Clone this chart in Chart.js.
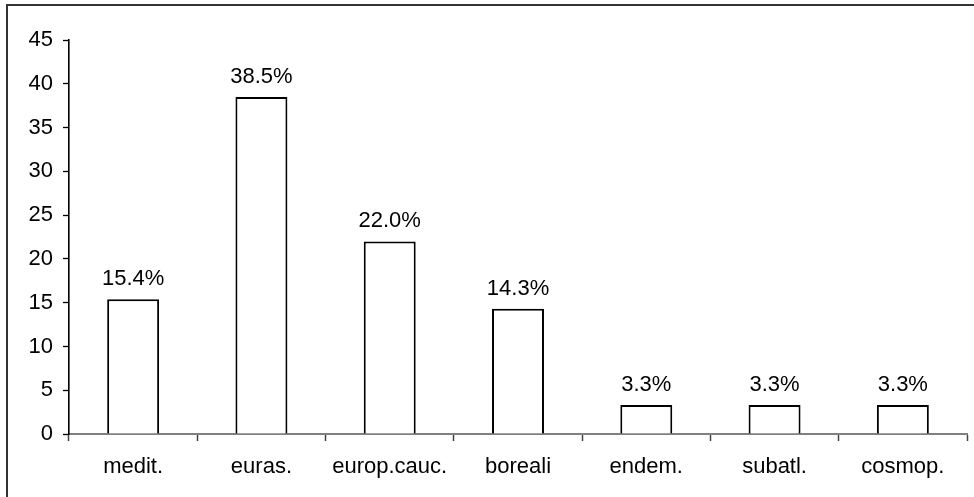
<!DOCTYPE html>
<html lang="en">
<head>
  <meta charset="UTF-8">
  <title>Chorotypes</title>
  <script src="https://cdn.jsdelivr.net/npm/chart.js"></script>
  <style>
    html, body { margin: 0; padding: 0; background: #fff; overflow: hidden; }
    #wrap { position: relative; width: 974px; height: 497px; }
    #frame {
      position: absolute; left: 6px; top: 4px; width: 1000px; height: 600px;
      border-top: 2px solid #333; border-left: 2px solid #333; box-sizing: border-box;
    }
    canvas { position: absolute; left: 0; top: 0; }
  </style>
</head>
<body>
  <div id="wrap">
    <div id="frame"></div>
    <canvas id="chart" width="974" height="497"></canvas>
  </div>

  <script>
    const categories = ['medit.', 'euras.', 'europ.cauc.', 'boreali', 'endem.', 'subatl.', 'cosmop.'];
    const percents = [15.4, 38.5, 22.0, 14.3, 3.3, 3.3, 3.3];
    const yTicks = [0, 5, 10, 15, 20, 25, 30, 35, 40, 45];

    const FONT = { family: '"Liberation Sans", Arial, sans-serif', size: 22 };

    // percentage labels above each bar
    const barLabels = {
      id: 'barLabels',
      afterDatasetsDraw(chart) {
        const ctx = chart.ctx;
        const meta = chart.getDatasetMeta(0);
        ctx.save();
        ctx.font = `${FONT.size}px ${FONT.family}`;
        ctx.fillStyle = '#000';
        ctx.textAlign = 'center';
        ctx.textBaseline = 'alphabetic';
        meta.data.forEach((bar, i) => {
          ctx.fillText(percents[i].toFixed(1) + '%', bar.x, bar.y - 14);
        });
        ctx.restore();
      }
    };

    new Chart(document.getElementById('chart'), {
      type: 'bar',
      data: {
        labels: categories,
        datasets: [{
          data: percents,
          backgroundColor: '#fff',
          borderColor: '#000',
          borderWidth: 2,
          barPercentage: 0.405,
          categoryPercentage: 1
        }]
      },
      options: {
        responsive: false,
        animation: false,
        events: [],
        layout: { padding: { left: 0, top: 40, right: 7, bottom: 0 } },
        plugins: { legend: { display: false }, tooltip: { enabled: false } },
        scales: {
          x: {
            offset: true,
            grid: { offset: true, drawOnChartArea: false, tickLength: 7, tickColor: '#444', tickWidth: 1.5 },
            border: { color: '#808080', width: 2 },
            ticks: { color: '#000', font: FONT, padding: 13, maxRotation: 0 },
            afterFit(scale) { scale.height = 63; }
          },
          y: {
            min: 0,
            max: 45,
            afterBuildTicks(scale) { scale.ticks = yTicks.map(v => ({ value: v })); },
            grid: { drawOnChartArea: false, tickLength: 6, tickColor: '#000', tickWidth: 1.3 },
            border: { color: '#000', width: 1.6 },
            ticks: { color: '#000', font: FONT, padding: 10 },
            afterFit(scale) { scale.width = 69; }
          }
        }
      },
      plugins: [barLabels]
    });
  </script>
</body>
</html>
